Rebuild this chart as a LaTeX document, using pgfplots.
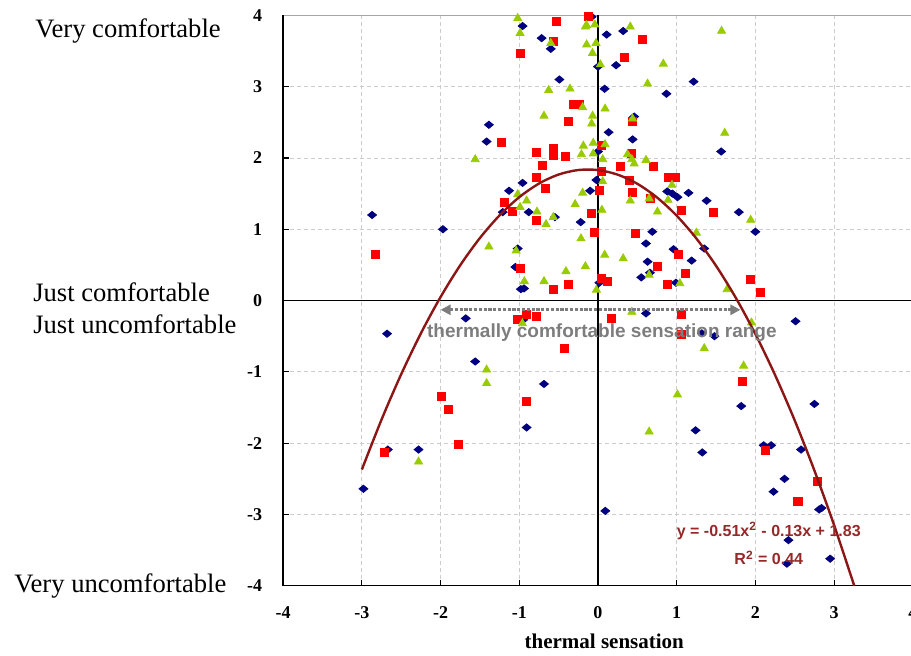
\documentclass[border=0pt]{standalone}
\usepackage{fontspec}
\setmainfont{Liberation Serif}
\newfontfamily\arialfont{Liberation Sans}
\usepackage{pgfplots}
\pgfplotsset{compat=1.18}
\usetikzlibrary{arrows.meta}
\definecolor{navyblue}{RGB}{0,0,128}
\definecolor{ygreen}{RGB}{153,204,0}
\definecolor{fitred}{RGB}{140,22,22}
\definecolor{eqred}{RGB}{150,40,40}
\definecolor{arrgray}{RGB}{125,125,125}
\begin{document}
\begin{tikzpicture}
\begin{axis}[
  x=39.35pt, y=35.65pt,
  xmin=-4, xmax=4, ymin=-4, ymax=4,
  xtick={-4,...,4}, ytick={-4,...,4},
  tick pos=left, tick align=inside,
  major tick length=3pt,
  tick style={black, line width=0.6pt},
  axis line style={gray!70, line width=0.6pt},
  grid=major,
  major grid style={gray!40, dash pattern=on 2pt off 1.5pt, line width=0.4pt},
  /pgf/number format/assume math mode=true,
  ticklabel style={font=\fontsize{9}{10}\selectfont\bfseries},
  xticklabel style={yshift=-7pt},
  yticklabel style={xshift=-7pt},
  xlabel={thermal sensation},
  xlabel style={font=\fontsize{10.5}{12}\selectfont\bfseries, at={(axis description cs:0.51,0)}, anchor=center, yshift=-28pt},
  clip mode=individual,
]
% axis frame and zero lines
\draw[black, line width=0.7pt] (rel axis cs:0,1) -- (rel axis cs:0,0) -- (rel axis cs:1,0);
\draw[black, line width=0.6pt] (axis cs:0,-4) -- (axis cs:0,4);
\draw[black, line width=0.6pt] (axis cs:-4,0) -- (axis cs:4,0);

% blue diamonds
\addplot[only marks, mark=diamond*, mark size=1.9pt, color=navyblue, mark options={fill=navyblue, draw=navyblue, xscale=1.55, yscale=0.95}] coordinates {
(-0.958,3.85) (-0.716,3.68) (-0.60,3.53) (-0.49,3.10) (-1.386,2.465) (-1.415,2.23)
(-0.958,1.65) (-1.13,1.54) (-1.21,1.24) (-0.88,1.24) (-0.547,1.17) (-0.22,1.10)
(-0.10,1.54) (-2.87,1.20) (-1.97,1.00) (-1.02,0.73) (-1.05,0.47) (-0.98,0.16)
(-0.94,0.17) (0.0,3.28) (-0.08,3.98) (-0.02,1.69) (0.11,3.73) (0.32,3.78)
(0.23,3.30) (1.215,3.07) (0.084,2.97) (0.87,2.90) (0.46,2.58) (0.135,2.36)
(0.44,2.26) (1.565,2.09) (0.0,2.09) (0.88,1.53) (0.945,1.50) (1.01,1.45)
(1.15,1.51) (1.38,1.40) (1.79,1.24) (2.0,0.965) (0.69,0.965) (0.61,0.80)
(0.96,0.72) (1.19,0.56) (0.63,0.545) (0.66,0.39) (0.55,0.325) (1.35,0.73)
(0.99,0.25) (0.017,0.25) (-2.68,-0.465) (-1.68,-0.25) (-1.56,-0.855) (-0.686,-1.17)
(-0.907,-1.78) (-2.67,-2.09) (-2.28,-2.09) (-2.98,-2.64) (-0.95,-0.27) (0.61,-0.18)
(1.32,-0.46) (1.48,-0.50) (2.51,-0.29) (1.82,-1.48) (2.75,-1.45) (1.24,-1.82)
(1.325,-2.13) (2.105,-2.03) (2.20,-2.03) (2.58,-2.09) (2.37,-2.50) (2.23,-2.68)
(2.81,-2.93) (2.84,-2.91) (0.093,-2.95) (2.42,-3.36) (2.40,-3.69) (2.95,-3.62)
};

% red squares
\addplot[only marks, mark=square*, mark size=2pt, color=red, mark options={fill=red, draw=red}] coordinates {
(-0.534,3.92) (-0.568,3.64) (-0.983,3.47) (-0.123,3.98) (-0.31,2.755) (-0.23,2.755)
(-0.37,2.51) (-1.225,2.22) (-0.78,2.08) (-0.568,2.13) (-0.568,2.03) (-0.42,2.02)
(-0.71,1.90) (-0.78,1.73) (-0.674,1.57) (-1.19,1.37) (-1.085,1.245) (-0.78,1.13)
(-0.08,1.22) (-0.05,0.95) (-2.83,0.65) (-0.983,0.45) (-0.568,0.157) (-0.373,0.22)
(0.56,3.66) (0.34,3.41) (0.44,2.51) (0.04,2.17) (0.42,2.07) (0.29,1.88)
(0.70,1.88) (0.90,1.73) (0.98,1.73) (0.40,1.69) (0.04,1.81) (0.017,1.55)
(0.44,1.51) (0.66,1.43) (1.06,1.26) (1.47,1.24) (0.47,0.94) (1.02,0.65)
(0.755,0.475) (1.105,0.38) (0.88,0.22) (0.04,0.31) (0.12,0.265) (1.94,0.30)
(2.06,0.11) (-1.02,-0.26) (-0.915,-0.20) (-0.78,-0.22) (-0.43,-0.67) (-1.99,-1.35)
(-1.905,-1.53) (-0.907,-1.42) (-1.775,-2.02) (-2.72,-2.13) (0.17,-0.25) (1.055,-0.20)
(1.055,-0.47) (1.83,-1.14) (2.13,-2.10) (2.79,-2.535) (2.54,-2.81)
};

% green triangles
\addplot[only marks, mark=triangle*, mark size=2.3pt, color=ygreen, mark options={fill=ygreen, draw=ygreen}] coordinates {
(-1.02,3.96) (-0.99,3.75) (-0.60,3.61) (-0.144,3.86) (-0.16,3.84) (-0.04,3.87)
(-0.144,3.59) (-0.07,3.47) (-0.627,2.95) (-0.356,2.97) (-0.195,2.71) (-0.686,2.59)
(-0.068,2.59) (-0.08,2.48) (-1.56,1.98) (-0.186,2.17) (-0.21,2.05) (-0.06,2.21)
(-0.06,2.06) (-1.02,1.49) (-0.907,1.40) (-0.99,1.31) (-0.775,1.245) (-0.568,1.17)
(-0.66,1.07) (-0.29,1.35) (-0.195,1.51) (-0.216,0.87) (-1.386,0.755) (-1.04,0.70)
(-0.16,0.48) (-0.407,0.41) (-0.686,0.27) (-0.936,0.27) (-0.02,0.15) (0.41,3.84)
(1.57,3.78) (-0.025,3.61) (0.03,3.31) (0.83,3.32) (0.63,3.04) (0.09,2.69)
(0.44,2.55) (1.61,2.35) (0.09,2.19) (0.375,2.05) (0.43,1.98) (0.46,1.92)
(0.06,1.98) (0.61,1.97) (0.94,1.62) (0.06,1.67) (0.65,1.43) (0.41,1.40)
(0.89,1.41) (0.755,1.245) (1.94,1.13) (0.05,1.27) (1.25,0.95) (0.085,0.64)
(0.32,0.59) (0.65,0.36) (1.04,0.24) (1.64,0.157) (-0.96,-0.32) (-1.415,-0.97)
(-1.415,-1.16) (-2.28,-2.26) (0.43,-0.16) (1.35,-0.67) (1.85,-0.915) (1.01,-1.32)
(0.65,-1.84) (1.95,-0.31)
};

% fitted curve y = -0.51x^2 - 0.13x + 1.83
\addplot[fitred, line width=1.2pt, smooth, no marks] coordinates {
(-3,-2.37) (-2.75,-1.669) (-2.5,-1.0325) (-2.25,-0.4594) (-2,0.05) (-1.75,0.4956)
(-1.5,0.8775) (-1.25,1.1956) (-1,1.45) (-0.75,1.6406) (-0.5,1.7675) (-0.25,1.8306)
(0,1.83) (0.25,1.7656) (0.5,1.6375) (0.75,1.4456) (1,1.19) (1.25,0.8706)
(1.5,0.4875) (1.75,0.0406) (2,-0.47) (2.25,-1.0444) (2.5,-1.6825) (2.75,-2.3845)
(3,-3.15) (3.256,-4)
};

% comfort range arrow
\draw[arrgray, line width=1.6pt, dash pattern=on 1.6pt off 0.8pt, {Triangle[length=5pt,width=5pt]}-{Triangle[length=5pt,width=5pt]}] (axis cs:-2.0,-0.13) -- (axis cs:1.81,-0.13);
\node[font={\arialfont\bfseries\fontsize{9.5}{11}\selectfont}, text=arrgray] at (axis cs:0.05,-0.455) {thermally comfortable sensation range};

% equation
\node[font={\arialfont\bfseries\fontsize{8}{9}\selectfont}, text=eqred] at (axis cs:2.17,-3.23) {y = -0.51x\textsuperscript{2} - 0.13x + 1.83};
\node[font={\arialfont\bfseries\fontsize{8}{9}\selectfont}, text=eqred] at (axis cs:2.17,-3.61) {R\textsuperscript{2} = 0.44};

% left descriptors
\node[anchor=base west, inner sep=0pt, font=\fontsize{13.3}{15}\selectfont] at (axis cs:-7.154,3.689) {Very comfortable};
\node[anchor=base west, inner sep=0pt, font=\fontsize{13.3}{15}\selectfont] at (axis cs:-7.18,-0.007) {Just comfortable};
\node[anchor=base west, inner sep=0pt, font=\fontsize{13.3}{15}\selectfont] at (axis cs:-7.18,-0.456) {Just uncomfortable};
\node[anchor=base west, inner sep=0pt, font=\fontsize{13.3}{15}\selectfont] at (axis cs:-7.42,-4.088) {Very uncomfortable};

\coordinate (bbsw) at (axis cs:-7.598,-4.972);
\coordinate (bbne) at (axis cs:3.977,4.215);
\end{axis}
\pgfresetboundingbox
\path[use as bounding box] (bbsw) rectangle (bbne);
\end{tikzpicture}
\end{document}
